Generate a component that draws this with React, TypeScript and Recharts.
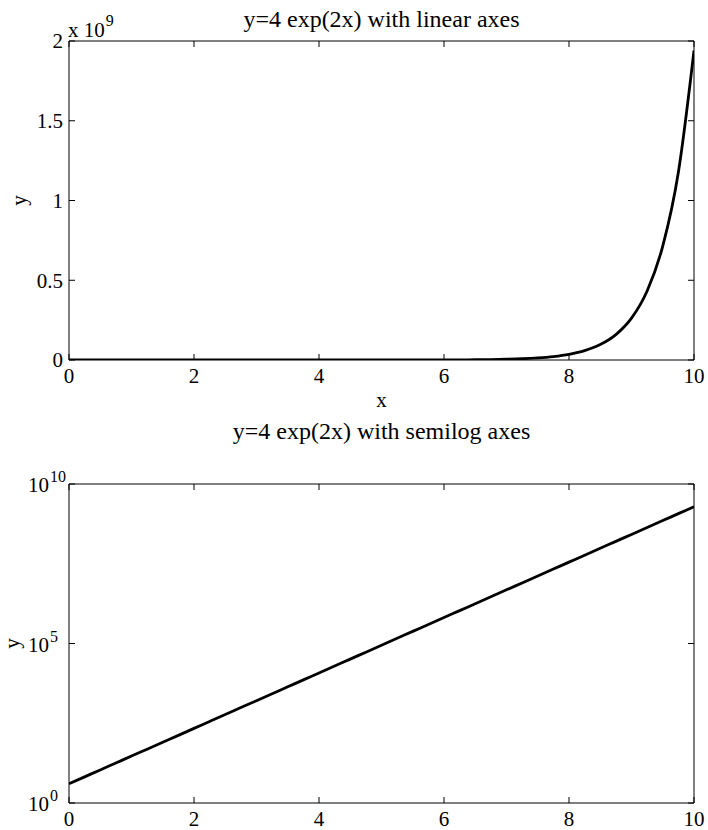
import {Label, Line, LineChart, XAxis, YAxis} from 'recharts'

// samples of y = 4 exp(2x), read at x steps of 0.25
const xValues = [
    0, 0.25, 0.5, 0.75, 1, 1.25, 1.5, 1.75, 2, 2.25, 2.5, 2.75, 3, 3.25, 3.5, 3.75, 4,
    4.25, 4.5, 4.75, 5, 5.25, 5.5, 5.75, 6, 6.25, 6.5, 6.75, 7, 7.25, 7.5, 7.75, 8,
    8.25, 8.5, 8.75, 9, 9.25, 9.5, 9.75, 10,
]
const yValues = [
    4, 6.6, 10.9, 17.9, 29.6, 48.7, 80.3, 132, 218, 360, 594, 979, 1614, 2661, 4387, 7232, 11924,
    19659, 32412, 53439, 88106, 145262, 239496, 394863, 651019, 1073348, 1769652, 2917664, 4810416,
    7931036, 13076068, 21558792, 35544444, 58602876, 96619812, 159299136, 262639876, 433019952,
    713929204, 1177070264, 1940660780,
]
const xTicks = [0, 2, 4, 6, 8, 10]
const linearTicks = [0, 0.5e9, 1e9, 1.5e9, 2e9]
const logTicks = [1, 1e5, 1e10]
const logExponents = ['0', '5', '10']
const titles = ['y=4 exp(2x) with linear axes', 'y=4 exp(2x) with semilog axes']

const data = xValues.map((x, i) => ({x, y: yValues[i]}))

const FONT = '"Liberation Serif", "Times New Roman", serif'
const TICK_LEN = 6
const FS = 21

const BottomTick = ({x, y, payload}: any) => (
    <g>
        <line x1={x} x2={x} y1={y} y2={y - TICK_LEN} stroke="#000"/>
        <text x={x} y={y + 8} dy="0.71em" textAnchor="middle" fontFamily={FONT} fontSize={FS} fill="#000">
            {payload.value}
        </text>
    </g>
)

const TopTick = ({x, y}: any) => (
    <line x1={x} x2={x} y1={y} y2={y + TICK_LEN} stroke="#000"/>
)

const RightTick = ({x, y}: any) => (
    <line x1={x} x2={x - TICK_LEN} y1={y} y2={y} stroke="#000"/>
)

const LinearLeftTick = ({x, y, payload}: any) => (
    <g>
        <line x1={x} x2={x + TICK_LEN} y1={y} y2={y} stroke="#000"/>
        <text x={x - 6} y={y} dy="0.35em" textAnchor="end" fontFamily={FONT} fontSize={FS} fill="#000">
            {payload.value / 1e9}
        </text>
    </g>
)

const LogLeftTick = ({x, y, payload, index}: any) => (
    <g>
        <line x1={x} x2={x + TICK_LEN} y1={y} y2={y} stroke="#000"/>
        <text x={x - 41} y={y + 8} fontFamily={FONT} fontSize={FS} fill="#000">
            10<tspan dx={1} dy={-10} fontSize={16}>{logExponents[index] ?? Math.log10(payload.value)}</tspan>
        </text>
    </g>
)

const TitleLabel = ({viewBox, text, gap}: any) => (
    <text x={viewBox.x + viewBox.width / 2} y={viewBox.y + viewBox.height - gap} textAnchor="middle"
          fontFamily={FONT} fontSize={24} fill="#000">{text}</text>
)

const YLabel = ({viewBox, x}: any) => {
    const cy = viewBox.y + viewBox.height / 2
    return (
        <text x={x} y={cy} transform={`rotate(-90, ${x}, ${cy})`} textAnchor="middle"
              fontFamily={FONT} fontSize={FS} fill="#000">y</text>
    )
}

const Multiplier = ({viewBox}: any) => (
    <text x={viewBox.x + viewBox.width - 1} y={viewBox.y - 4} fontFamily={FONT} fontSize={FS} fill="#000">
        x 10<tspan dx={1} dy={-11} fontSize={16}>9</tspan>
    </text>
)

const XLabel = ({viewBox}: any) => (
    <text x={viewBox.x + viewBox.width / 2} y={viewBox.y + 47} textAnchor="middle"
          fontFamily={FONT} fontSize={FS} fill="#000">x</text>
)

export default function App() {
    return (
        <div style={{position: 'absolute', left: 0, top: 0, width: 708, height: 830, background: '#fff'}}>
            <div style={{position: 'absolute', left: 0, top: 0}}>
                <LineChart width={708} height={420} data={data}
                           margin={{top: 40, right: 13, bottom: 59, left: 68}}>
                    <XAxis dataKey="x" type="number" domain={[0, 10]} ticks={xTicks} allowDataOverflow
                           height={1} tickSize={0} tickMargin={0} stroke="#000" tick={BottomTick}>
                        <Label content={(p: any) => <XLabel {...p}/>}/>
                    </XAxis>
                    <XAxis xAxisId="top" orientation="top" dataKey="x" type="number" domain={[0, 10]}
                           ticks={xTicks} allowDataOverflow height={1} tickSize={0} tickMargin={0}
                           stroke="#000" tick={TopTick}>
                        <Label content={(p: any) => <TitleLabel {...p} text={titles[0]} gap={14}/>}/>
                    </XAxis>
                    <YAxis type="number" domain={[0, 2e9]} ticks={linearTicks} allowDataOverflow width={1}
                           tickSize={0} tickMargin={0} stroke="#000" tick={LinearLeftTick}>
                        <Label content={(p: any) => <YLabel {...p} x={26}/>}/>
                        <Label content={(p: any) => <Multiplier {...p}/>}/>
                    </YAxis>
                    <YAxis yAxisId="right" orientation="right" type="number" domain={[0, 2e9]}
                           ticks={linearTicks} allowDataOverflow width={1} tickSize={0} tickMargin={0}
                           stroke="#000" tick={RightTick}/>
                    <Line dataKey="y" type="monotone" stroke="#000" strokeWidth={2.8} dot={false}
                          isAnimationActive={false}/>
                </LineChart>
            </div>
            <div style={{position: 'absolute', left: 0, top: 380}}>
                <LineChart width={708} height={450} data={data}
                           margin={{top: 103, right: 13, bottom: 26, left: 68}}>
                    <XAxis dataKey="x" type="number" domain={[0, 10]} ticks={xTicks} allowDataOverflow
                           height={1} tickSize={0} tickMargin={0} stroke="#000" tick={BottomTick}/>
                    <XAxis xAxisId="top" orientation="top" dataKey="x" type="number" domain={[0, 10]}
                           ticks={xTicks} allowDataOverflow height={1} tickSize={0} tickMargin={0}
                           stroke="#000" tick={TopTick}>
                        <Label content={(p: any) => <TitleLabel {...p} text={titles[1]} gap={45}/>}/>
                    </XAxis>
                    <YAxis type="number" scale="log" domain={[1, 1e10]} ticks={logTicks} allowDataOverflow
                           width={1} tickSize={0} tickMargin={0} stroke="#000" tick={LogLeftTick}>
                        <Label content={(p: any) => <YLabel {...p} x={19}/>}/>
                    </YAxis>
                    <YAxis yAxisId="right" orientation="right" type="number" scale="log" domain={[1, 1e10]}
                           ticks={logTicks} allowDataOverflow width={1} tickSize={0} tickMargin={0}
                           stroke="#000" tick={RightTick}/>
                    <Line dataKey="y" type="monotone" stroke="#000" strokeWidth={2.8} dot={false}
                          isAnimationActive={false}/>
                </LineChart>
            </div>
        </div>
    )
}
